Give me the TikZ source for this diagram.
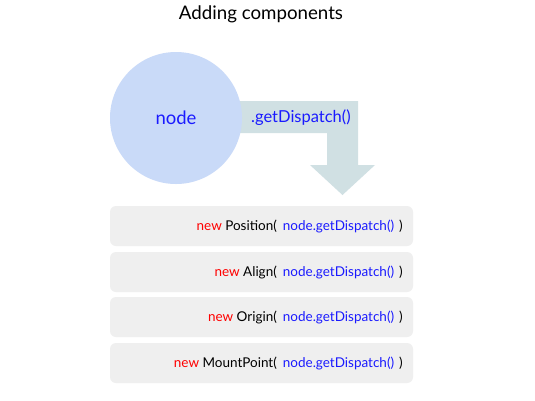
\documentclass[tikz,border=0pt]{standalone}
\usepackage{fontspec}
\setmainfont{Lato}
\definecolor{nodefill}{HTML}{C9DAF8}
\definecolor{arrowfill}{HTML}{D0E0E3}
\definecolor{boxfill}{HTML}{EFEFEF}
\definecolor{codeblue}{HTML}{1A1AFF}
\definecolor{codered}{HTML}{FF0000}
\tikzset{
  compbox/.style={fill=boxfill,rounded corners=6pt},
  comptext/.style={anchor=east,font=\fontsize{13.5}{16}\selectfont,text=black,inner sep=0pt},
}
\newcommand{\newcall}[1]{{\color{codered}new} #1(\hspace{6pt}{\color{codeblue}node.getDispatch()}\hspace{5pt})}
\begin{document}
\begin{tikzpicture}[x=1pt,y=-1pt]
\useasboundingbox[fill=white] (0,0) rectangle (535,400);
% title
\node (title) at (261,14) {\fontsize{18.7}{22}\selectfont Adding components};
% dispatch arrow
\fill[arrowfill] (200,101) -- (358,101) -- (358,165) -- (375,165)
 -- (342.5,195) -- (310,165) -- (327,165) -- (327,133) -- (200,133) -- cycle;
\node[circle,fill=nodefill,minimum size=132pt,inner sep=0pt,
  font=\fontsize{18.5}{22}\selectfont,text=codeblue] (node) at (176,118) {node};
\node[anchor=west,inner sep=0pt,font=\fontsize{16.5}{19}\selectfont,text=codeblue]
  (getdispatch) at (251,118) {.getDispatch()};
% components
\fill[compbox] (110,206) rectangle (413,246);
\node[comptext] (position) at (403,226) {\newcall{Position}};
\fill[compbox] (110,252) rectangle (413,292);
\node[comptext] (align) at (403,272) {\newcall{Align}};
\fill[compbox] (110,297) rectangle (413,337);
\node[comptext] (origin) at (403,317) {\newcall{Origin}};
\fill[compbox] (110,343) rectangle (413,383);
\node[comptext] (mountpoint) at (403,363) {\newcall{MountPoint}};
\end{tikzpicture}
\end{document}
